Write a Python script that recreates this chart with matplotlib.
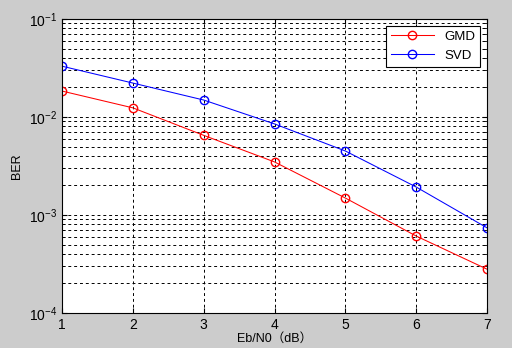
import matplotlib
matplotlib.use("Agg")
import matplotlib.pyplot as plt
import numpy as np

plt.rcParams['font.family'] = ['Liberation Sans', 'Noto Sans CJK SC']
plt.rcParams['mathtext.fontset'] = 'custom'
plt.rcParams['mathtext.rm'] = 'Liberation Sans'
plt.rcParams['mathtext.it'] = 'Liberation Sans'

# Eb/N0 in dB
snr_db = [1, 2, 3, 4, 5, 6, 7]
# bit error rates
ber_gmd = [0.0184, 0.0124, 0.0065, 0.00348, 0.00149, 0.00061, 0.00028]
ber_svd = [0.033, 0.0222, 0.0149, 0.0085, 0.0045, 0.00193, 0.00074]

fig = plt.figure(figsize=(5.12, 3.48), dpi=100, facecolor='#cccccc')
ax = fig.add_axes([62/512, 1 - 313/348, (487-62)/512, (313-19)/348])
ax.set_facecolor('white')

ax.semilogy(snr_db, ber_gmd, '-o', color='red', mfc='none', ms=6, lw=0.75, label='GMD')
ax.semilogy(snr_db, ber_svd, '-o', color='blue', mfc='none', ms=6, lw=0.75, label='SVD')

ax.set_xlim(1, 7)
ax.set_ylim(1e-4, 1e-1)
ax.set_xticks(snr_db)
ax.grid(True, which='both', color='black', linestyle=(0, (3, 3)), linewidth=0.7)
ax.tick_params(which='both', direction='in', labelsize=10, top=True, right=True)
for s in ax.spines.values():
    s.set_linewidth(0.8)

ax.set_xlabel('Eb/N0（dB）', fontsize=9, labelpad=1)
ax.set_ylabel('BER', fontsize=9)

leg = ax.legend(loc='upper right', fontsize=9.5, fancybox=False, framealpha=1,
                edgecolor='black', borderaxespad=0.5, handlelength=3.2)
leg.get_frame().set_linewidth(0.8)

fig.savefig('out.png', dpi=100, facecolor=fig.get_facecolor())
